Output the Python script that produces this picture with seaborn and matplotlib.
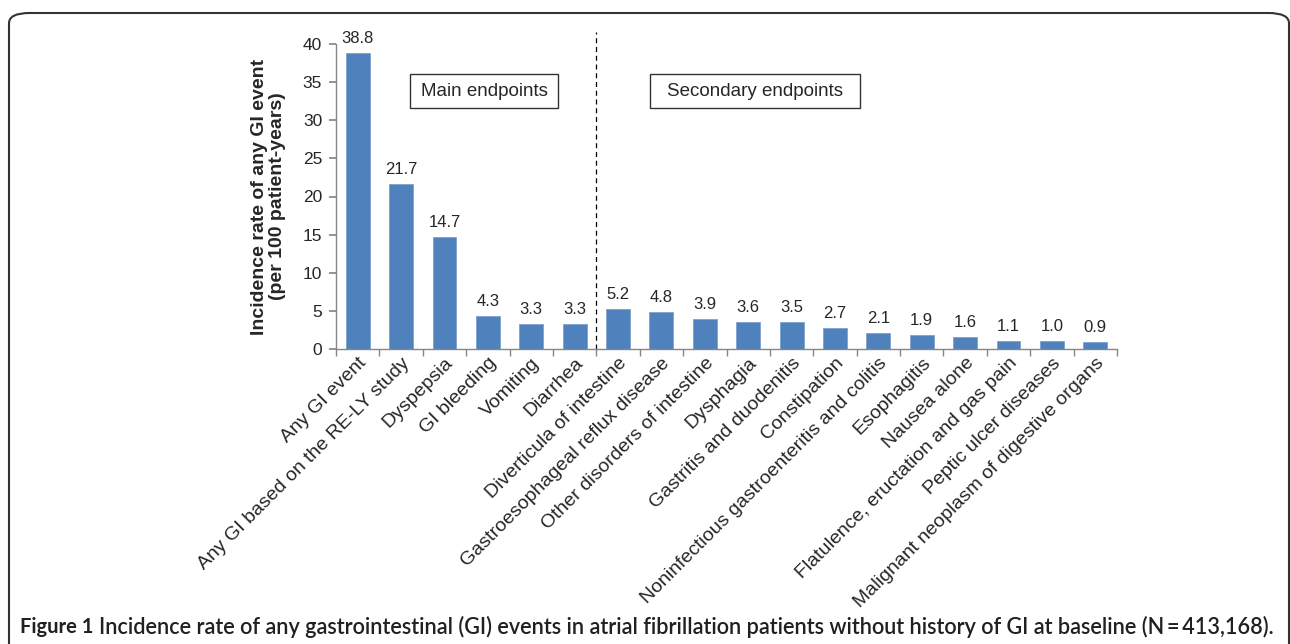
import matplotlib
matplotlib.use("Agg")
import matplotlib.pyplot as plt
import seaborn as sns
import pandas as pd
import numpy as np
from matplotlib.patches import FancyBboxPatch, Rectangle

categories = [
    "Any GI event", "Any GI based on the RE-LY study", "Dyspepsia", "GI bleeding",
    "Vomiting", "Diarrhea", "Diverticula of intestine", "Gastroesophageal reflux disease",
    "Other disorders of intestine", "Dysphagia", "Gastritis and duodenitis", "Constipation",
    "Noninfectious gastroenteritis and colitis", "Esophagitis", "Nausea alone",
    "Flatulence, eructation and gas pain", "Peptic ulcer diseases",
    "Malignant neoplasm of digestive organs",
]
values = [38.8, 21.7, 14.7, 4.3, 3.3, 3.3, 5.2, 4.8, 3.9, 3.6, 3.5, 2.7, 2.1, 1.9, 1.6, 1.1, 1.0, 0.9]
y_ticks = [0, 5, 10, 15, 20, 25, 30, 35, 40]

sns.set_theme(style="white")
plt.rcParams['font.family'] = ['Liberation Sans', 'DejaVu Sans']

df = pd.DataFrame({"category": categories, "value": values})

W, H = 1290, 644
fig = plt.figure(figsize=(W / 100, H / 100), dpi=100)
ax = fig.add_axes([336 / W, 1 - 349 / H, (1117 - 336) / W, (349 - 44) / H])

bar_color = "#4F81BD"
sns.barplot(data=df, x="category", y="value", color=bar_color, width=0.55,
            saturation=1, edgecolor="#7FA2D0", linewidth=0.6, ax=ax)

ax.set_xlim(-0.5, len(categories) - 0.5)
ax.set_ylim(0, 40)
ax.set_yticks(y_ticks)
ax.set_xlabel("")
ax.set_ylabel("Incidence rate of any GI event\n(per 100 patient-years)",
              fontsize=14, fontweight="bold", labelpad=12, linespacing=1.05)

for s in ["top", "right"]:
    ax.spines[s].set_visible(False)
for s in ["left", "bottom"]:
    ax.spines[s].set_color("#868686")
    ax.spines[s].set_linewidth(1.0)

ax.tick_params(axis="y", direction="out", length=5, color="#868686", labelsize=12.5, pad=5, left=True)
ax.set_xticks(range(len(categories)))
ax.set_xticklabels(categories, rotation=45, ha="right", rotation_mode="anchor", fontsize=14)
ax.tick_params(axis="x", which="major", length=0, pad=4)
ax.set_xticks(np.arange(-0.5, len(categories), 1.0), minor=True)
ax.tick_params(axis="x", which="minor", direction="out", length=5, color="#868686", bottom=True)

for i, v in enumerate(values):
    ax.annotate(f"{v:.1f}", (i, v), xytext=(0, 5), textcoords="offset points",
                ha="center", va="bottom", fontsize=12)

ax.plot([5.5, 5.5], [0, 41.6], linestyle=(0, (4, 3)), color="black", linewidth=0.9, clip_on=False)

def boxed(x0, x1, y0, y1, text):
    fig.patches.append(Rectangle((x0 / W, 1 - y1 / H), (x1 - x0) / W, (y1 - y0) / H,
                                 transform=fig.transFigure, facecolor="white",
                                 edgecolor="#333333", linewidth=1.0, zorder=5))
    fig.text((x0 + x1) / 2 / W, 1 - (y0 + y1) / 2 / H, text, ha="center", va="center",
             fontsize=13.5, zorder=6)

boxed(410, 558, 74, 108, "Main endpoints")
boxed(650, 860, 74, 108, "Secondary endpoints")

frame = FancyBboxPatch((9 / W, -0.05), (1289 - 9) / W, 1 - 13 / H + 0.05,
                       boxstyle="round,pad=0,rounding_size=0.016", transform=fig.transFigure,
                       facecolor="none", edgecolor="#333333", linewidth=1.5, clip_on=False)
fig.patches.append(frame)

yc = 1 - 627 / H
t1 = fig.text(20 / W, yc, "Figure 1", fontsize=14.5, fontweight="bold",
              family=["Lato", "DejaVu Sans"], ha="left", va="center", color="#231F20")
r = fig.canvas.get_renderer()
bb = t1.get_window_extent(renderer=r)
fig.text((bb.x1 + 6) / W, yc,
         "Incidence rate of any gastrointestinal (GI) events in atrial fibrillation patients without history of GI at baseline (N\u2009=\u2009413,168).",
         fontsize=15.6, fontweight="semibold", family=["Lato", "DejaVu Sans"], ha="left", va="center", color="#231F20")

fig.savefig("out.png", dpi=100)
